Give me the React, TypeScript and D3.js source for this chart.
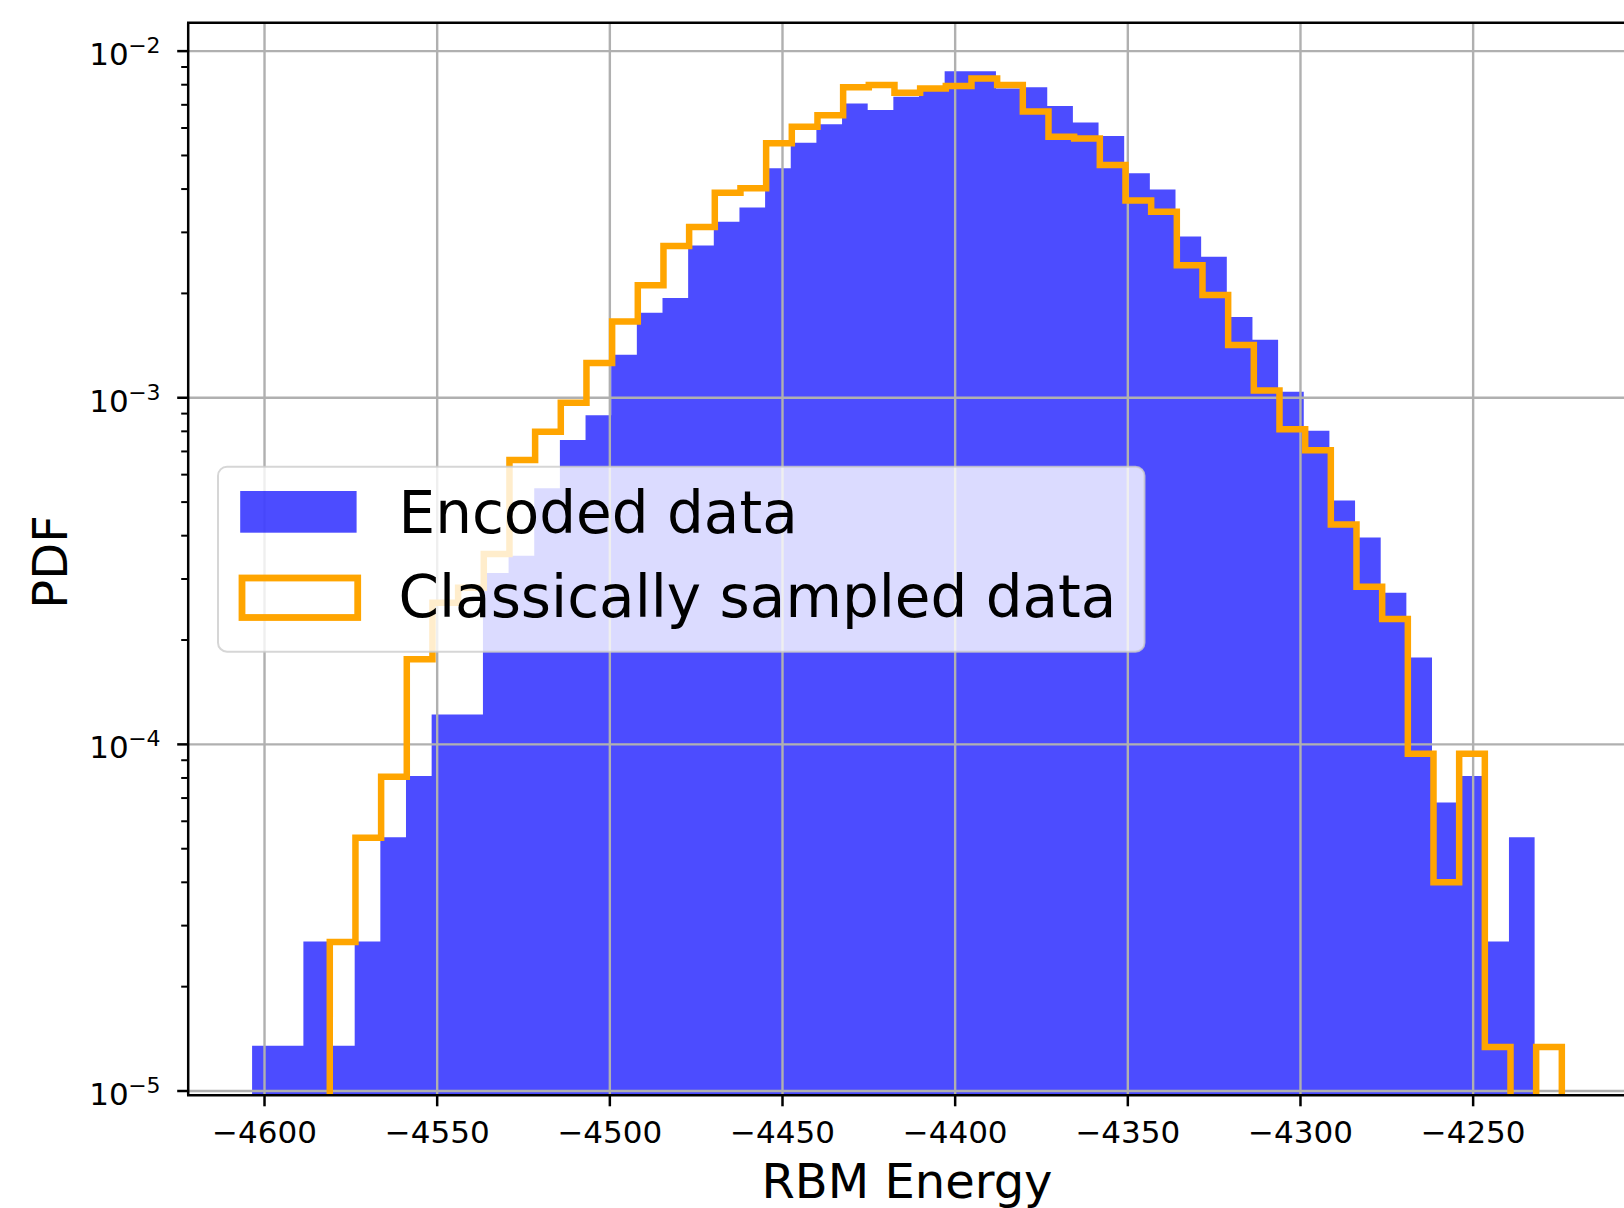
import React from 'react';
import * as d3 from 'd3';

// ---- data (PDF values per histogram bin) ----
const encodedBinStart = -4603.6;
const encodedBinWidth = 7.428;
const encodedPdf = [
  1.35e-5, 1.35e-5, 2.7e-5, 1.35e-5, 2.7e-5, 5.4e-5, 8.1e-5, 1.22e-4, 1.22e-4, 3.12e-4,
  3.5e-4, 5.48e-4, 7.55e-4, 8.9e-4, 1.33e-3, 1.76e-3, 1.94e-3, 2.75e-3, 3.22e-3, 3.54e-3,
  4.59e-3, 5.44e-3, 6.15e-3, 7.06e-3, 6.76e-3, 7.38e-3, 7.72e-3, 8.75e-3, 8.75e-3, 7.8e-3,
  7.86e-3, 6.94e-3, 6.22e-3, 5.69e-3, 4.44e-3, 3.99e-3, 2.92e-3, 2.55e-3, 1.71e-3, 1.47e-3,
  1.04e-3, 8.03e-4, 5.05e-4, 3.95e-4, 2.74e-4, 1.78e-4, 6.8e-5, 8.1e-5, 2.7e-5, 5.4e-5,
];

const classicalBinStart = -4581.1;
const classicalBinWidth = 7.433;
const classicalPdf = [
  2.69e-5, 5.38e-5, 8.07e-5, 1.76e-4, 2.56e-4, 2.83e-4, 3.54e-4, 6.61e-4, 7.98e-4, 9.68e-4,
  1.26e-3, 1.66e-3, 2.11e-3, 2.74e-3, 3.11e-3, 3.9e-3, 4.02e-3, 5.42e-3, 6.05e-3, 6.53e-3,
  7.86e-3, 7.98e-3, 7.58e-3, 7.8e-3, 7.93e-3, 8.34e-3, 7.98e-3, 6.7e-3, 5.66e-3, 5.6e-3,
  4.69e-3, 3.71e-3, 3.44e-3, 2.41e-3, 1.98e-3, 1.42e-3, 1.05e-3, 8.11e-4, 7.06e-4, 4.31e-4,
  2.85e-4, 2.3e-4, 9.4e-5, 4.0e-5, 9.4e-5, 1.34e-5, 0, 1.34e-5,
];

const xTickValues = [-4600, -4550, -4500, -4450, -4400, -4350, -4300, -4250];
const yMajorExponents = [-5, -4, -3, -2];
const legendLabels = ['Encoded data', 'Classically sampled data'];
const xLabel = 'RBM Energy';
const yLabel = 'PDF';

// ---- layout ----
const W = 1624;
const H = 1208;
const AX = { left: 188.2, right: 1627.5, top: 22.7, bottom: 1095.3 };
const FONT = 'DejaVu Sans, Verdana, sans-serif';
const BLUE = '#0000ff';
const ORANGE = '#ffa500';

export default function App() {
  const x = d3.scaleLinear().domain([-4622.1, -4205.3]).range([AX.left, AX.right]);
  const y = d3.scaleLog().domain([Math.pow(10, -5.0124), Math.pow(10, -1.918)]).range([AX.bottom, AX.top]);
  const yv = (v: number) => (v > 0 ? y(v) : AX.bottom + 40);

  // Encoded (filled bars) as one step path
  const encEdges = d3.range(encodedPdf.length + 1).map((i) => encodedBinStart + i * encodedBinWidth);
  let encPath = `M${x(encEdges[0])},${AX.bottom + 5}`;
  encodedPdf.forEach((v, i) => {
    encPath += `L${x(encEdges[i])},${yv(v)}L${x(encEdges[i + 1])},${yv(v)}`;
  });
  encPath += `L${x(encEdges[encEdges.length - 1])},${AX.bottom + 5}Z`;

  // Classical (step outline)
  const clsEdges = d3.range(classicalPdf.length + 1).map((i) => classicalBinStart + i * classicalBinWidth);
  let clsPath = `M${x(clsEdges[0])},${AX.bottom + 40}`;
  classicalPdf.forEach((v, i) => {
    clsPath += `L${x(clsEdges[i])},${yv(v)}L${x(clsEdges[i + 1])},${yv(v)}`;
  });
  clsPath += `L${x(clsEdges[clsEdges.length - 1])},${AX.bottom + 40}`;

  const minorTicks: number[] = [];
  for (let e = -5; e <= -2; e++) {
    for (let m = 2; m <= 9; m++) {
      const v = m * Math.pow(10, e);
      const yy = y(v);
      if (yy >= AX.top && yy <= AX.bottom) minorTicks.push(v);
    }
  }

  const fmt = (v: number) => (v < 0 ? '\u2212' + Math.abs(v) : String(v));

  return (
    <svg
      width={W}
      height={H}
      style={{ position: 'absolute', left: 0, top: 0, display: 'block', background: '#fff' }}
      fontFamily={FONT}
    >
      <defs>
        <clipPath id="axclip">
          <rect x={AX.left} y={AX.top} width={AX.right - AX.left} height={AX.bottom - AX.top} />
        </clipPath>
      </defs>
      <rect x={0} y={0} width={W} height={H} fill="#fff" />

      <g clipPath="url(#axclip)">
        <path d={encPath} fill={BLUE} fillOpacity={0.7} stroke="none" />
        {/* grid */}
        {xTickValues.map((t) => (
          <line key={'gx' + t} x1={x(t)} x2={x(t)} y1={AX.top} y2={AX.bottom} stroke="#b0b0b0" strokeWidth={2.4} />
        ))}
        {yMajorExponents.map((e) => (
          <line
            key={'gy' + e}
            x1={AX.left}
            x2={AX.right}
            y1={y(Math.pow(10, e))}
            y2={y(Math.pow(10, e))}
            stroke="#b0b0b0"
            strokeWidth={2.4}
          />
        ))}
        <path d={clsPath} fill="none" stroke={ORANGE} strokeWidth={6.5} strokeLinejoin="miter" />
      </g>

      {/* spines */}
      <g stroke="#000" strokeWidth={2.5} fill="none">
        <line x1={AX.left} x2={AX.left} y1={AX.top} y2={AX.bottom} />
        <line x1={AX.right} x2={AX.right} y1={AX.top} y2={AX.bottom} />
        <line x1={AX.left - 1.2} x2={AX.right + 1.2} y1={AX.top} y2={AX.top} />
        <line x1={AX.left - 1.2} x2={AX.right + 1.2} y1={AX.bottom} y2={AX.bottom} />
      </g>

      {/* x ticks */}
      {xTickValues.map((t) => (
        <g key={'xt' + t}>
          <line x1={x(t)} x2={x(t)} y1={AX.bottom} y2={AX.bottom + 11} stroke="#000" strokeWidth={2.5} />
          <text x={x(t)} y={1143.3} textAnchor="middle" fontSize={31} fill="#000">
            {fmt(t)}
          </text>
        </g>
      ))}

      {/* y ticks */}
      {yMajorExponents.map((e) => {
        const yy = y(Math.pow(10, e));
        return (
          <g key={'yt' + e}>
            <line x1={AX.left - 11} x2={AX.left} y1={yy} y2={yy} stroke="#000" strokeWidth={2.5} />
            <text x={128.7} y={yy + 14} textAnchor="end" fontSize={31} fill="#000">
              10
            </text>
            <text x={128.2} y={yy + 1.8} textAnchor="start" fontSize={22} fill="#000">
              {'\u2212' + Math.abs(e)}
            </text>
          </g>
        );
      })}
      {minorTicks.map((v, i) => (
        <line key={'ym' + i} x1={AX.left - 7} x2={AX.left} y1={y(v)} y2={y(v)} stroke="#000" strokeWidth={2} />
      ))}

      {/* axis labels */}
      <text x={907} y={1198} textAnchor="middle" fontSize={48} fill="#000">
        {xLabel}
      </text>
      <text
        transform="translate(66.8,562) rotate(-90)"
        x={0}
        y={0}
        textAnchor="middle"
        fontSize={48}
        fill="#000"
      >
        {yLabel}
      </text>

      {/* legend */}
      <g>
        <rect
          x={218}
          y={466.7}
          width={926.5}
          height={185}
          rx={9}
          ry={9}
          fill="#fff"
          fillOpacity={0.8}
          stroke="#cccccc"
          strokeOpacity={0.8}
          strokeWidth={2}
        />
        <rect x={240.2} y={491} width={116.4} height={41.7} fill={BLUE} fillOpacity={0.7} />
        <rect x={242} y={578} width={115.7} height={39.5} fill="none" stroke={ORANGE} strokeWidth={6.8} />
        <text x={398.5} y={533} fontSize={58} fill="#000">
          {legendLabels[0]}
        </text>
        <text x={398.5} y={617.3} fontSize={58} fill="#000">
          {legendLabels[1]}
        </text>
      </g>
    </svg>
  );
}
